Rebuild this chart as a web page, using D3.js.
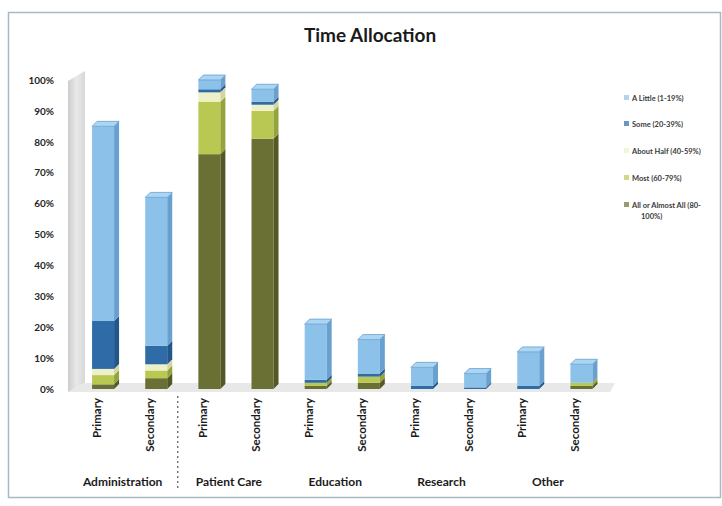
<!DOCTYPE html>
<html>
<head>
<meta charset="utf-8">
<script src="https://cdn.jsdelivr.net/npm/d3@7"></script>
<style>
  html, body { margin: 0; padding: 0; background: #fff; }
  svg { display: block; font-family: Lato, "Open Sans", sans-serif; }
</style>
</head>
<body>
<svg id="chart" width="722" height="506"></svg>
<script>
// Activity groups and the role within each group
const groups = ["Administration", "Patient Care", "Education", "Research", "Other"];
const roles = ["Primary", "Secondary"];

// Share of respondents in each time band (percent), one value per column:
// Admin P, Admin S, Patient Care P, Patient Care S, Education P, Education S,
// Research P, Research S, Other P, Other S
const allOrAlmostAll = [1.5, 3.5, 76, 81, 1, 2, 0, 0, 0, 1];
const most           = [3,   2.5, 17,  9, 1, 2, 0, 0, 0, 1];
const aboutHalf      = [2,   2,  3,  2, 0, 0, 0, 0, 0, 0];
const some           = [15.5, 6, 1,  1, 1, 1, 1, 0.5, 1, 0];
const aLittle        = [63, 48,  3,  4, 18, 11, 6, 4.5, 11, 6];

// Series from bottom of the stack to the top
const seriesKeys = ["All or Almost All (80-100%)", "Most (60-79%)", "About Half (40-59%)", "Some (20-39%)", "A Little (1-19%)"];
const seriesValues = [allOrAlmostAll, most, aboutHalf, some, aLittle];

const yTicks = [0, 10, 20, 30, 40, 50, 60, 70, 80, 90, 100];

// Face colours for each band: front, side, top
const palette = {
  "All or Almost All (80-100%)": { front: "#6a7034", side: "#535824", top: "#868c47" },
  "Most (60-79%)":               { front: "#b9c853", side: "#95a43a", top: "#d2de79" },
  "About Half (40-59%)":         { front: "#eef1c8", side: "#d2d6a4", top: "#f6f8df" },
  "Some (20-39%)":               { front: "#2f6ba6", side: "#23568a", top: "#4b86bf" },
  "A Little (1-19%)":            { front: "#8cc2ea", side: "#68a0cf", top: "#aad5f3" }
};

// Build one row per column
const columns = [];
groups.forEach((g, gi) => roles.forEach((r, ri) => {
  const i = gi * roles.length + ri;
  const row = { id: g + "|" + r, group: g, role: r };
  seriesKeys.forEach((k, si) => row[k] = seriesValues[si][i]);
  columns.push(row);
}));

const svg = d3.select("#chart");

// Chart frame
svg.append("rect")
  .attr("x", 8.5).attr("y", 12.5).attr("width", 712).attr("height", 485)
  .attr("fill", "#fff").attr("stroke", "#a9b8c6").attr("stroke-width", 1.5);

// Title
svg.append("text")
  .attr("x", 370).attr("y", 42)
  .attr("text-anchor", "middle")
  .attr("font-size", 19).attr("font-weight", 700).attr("fill", "#1a1a1a")
  .text("Time Allocation");

// Scales
const x = d3.scalePoint().domain(columns.map(d => d.id)).range([78.5, 610]).padding(0.5);
const y = d3.scaleLinear().domain([0, 100]).range([389, 80]);

const frontW = 22, dx = 5, dy = 5;

// Left wall of the 3-D plot area
const wallGrad = svg.append("defs").append("linearGradient")
  .attr("id", "wallGrad").attr("x1", "0").attr("x2", "1").attr("y1", "0").attr("y2", "0");
wallGrad.append("stop").attr("offset", "0").attr("stop-color", "#cdcdcd");
wallGrad.append("stop").attr("offset", "0.5").attr("stop-color", "#e8e8e8");
wallGrad.append("stop").attr("offset", "1").attr("stop-color", "#d8d8d8");

const wallX0 = 68, wallX1 = 85;
svg.append("path")
  .attr("d", `M${wallX0},${y(100) + 1} L${wallX1},${y(100) - 9} L${wallX1},${y(0) - 6} L${wallX0},${y(0) + 3} Z`)
  .attr("fill", "url(#wallGrad)");

// Floor
svg.append("path")
  .attr("d", `M${wallX0},${y(0) + 3} L${wallX1},${y(0) - 6} L615,${y(0) - 6} L610,${y(0) + 3} Z`)
  .attr("fill", "#e8e8e8");

// Vertical axis
const yAxis = svg.append("g")
  .attr("transform", "translate(54,0)")
  .call(d3.axisLeft(y).tickValues(yTicks).tickSize(0).tickPadding(0).tickFormat(d => d + "%"));
yAxis.select(".domain").remove();
yAxis.selectAll("text")
  .attr("font-family", "Lato, sans-serif")
  .attr("font-size", 10).attr("font-weight", 700).attr("fill", "#262626");

// Stacked columns with front, side and top faces
const stacked = d3.stack().keys(seriesKeys)(columns);

const bars = svg.append("g");
columns.forEach((col, ci) => {
  const cx = x(col.id);
  const x0 = cx - 13;
  const x1 = x0 + frontW;
  const segs = stacked
    .map(s => ({ key: s.key, y0: s[ci][0], y1: s[ci][1] }))
    .filter(s => s.y1 - s.y0 > 0);
  segs.forEach(s => {
    const c = palette[s.key];
    const yt = y(s.y1), yb = y(s.y0);
    bars.append("rect")
      .attr("x", x0).attr("y", yt).attr("width", frontW).attr("height", yb - yt)
      .attr("fill", c.front);
    bars.append("path")
      .attr("d", `M${x1},${yt} L${x1 + dx},${yt - dy} L${x1 + dx},${yb - dy} L${x1},${yb} Z`)
      .attr("fill", c.side);
  });
  const topSeg = segs[segs.length - 1];
  if (topSeg) {
    const c = palette[topSeg.key];
    const yt = y(topSeg.y1);
    bars.append("path")
      .attr("d", `M${x0},${yt} L${x0 + dx},${yt - dy} L${x1 + dx},${yt - dy} L${x1},${yt} Z`)
      .attr("fill", c.top).attr("stroke", c.side).attr("stroke-width", 0.8);
  }
});

// Role labels under each column
svg.append("g").selectAll("text")
  .data(columns)
  .join("text")
  .attr("transform", d => `translate(${x(d.id) - 9},398) rotate(-90)`)
  .attr("text-anchor", "end")
  .attr("dominant-baseline", "central")
  .attr("font-size", 11.5).attr("font-weight", 700).attr("fill", "#1a1a1a")
  .text(d => d.role);

// Group labels
svg.append("g").selectAll("text")
  .data(groups)
  .join("text")
  .attr("x", g => (x(g + "|Primary") + x(g + "|Secondary")) / 2 - 9)
  .attr("y", 486)
  .attr("text-anchor", "middle")
  .attr("font-size", 12).attr("font-weight", 700).attr("fill", "#1a1a1a")
  .text(g => g);

// Divider between the first two groups
const divX = (x(groups[0] + "|Secondary") + x(groups[1] + "|Primary")) / 2 - 7;
svg.append("line")
  .attr("x1", divX).attr("x2", divX).attr("y1", 396).attr("y2", 491)
  .attr("stroke", "#333").attr("stroke-width", 1).attr("stroke-dasharray", "2,3");

// Legend, top series first
const legendKeys = seriesKeys.slice().reverse();
const legendY = [98, 124, 151, 178, 205];
const legend = svg.append("g");
legendKeys.forEach((k, i) => {
  const ly = legendY[i];
  legend.append("rect")
    .attr("x", 624).attr("y", ly - 3).attr("width", 5).attr("height", 5)
    .attr("fill", palette[k].front).attr("opacity", 0.7);
  const t = legend.append("text")
    .attr("x", 632).attr("y", ly)
    .attr("dominant-baseline", "central")
    .attr("font-size", 7.5).attr("font-weight", 700).attr("fill", "#3a3a3a");
  if (k.length > 22) {
    const cut = k.indexOf("-") + 1;
    t.append("tspan").attr("x", 632).text(k.slice(0, cut));
    t.append("tspan").attr("x", 641).attr("dy", 11).text(k.slice(cut));
  } else {
    t.text(k);
  }
});
</script>
</body>
</html>
